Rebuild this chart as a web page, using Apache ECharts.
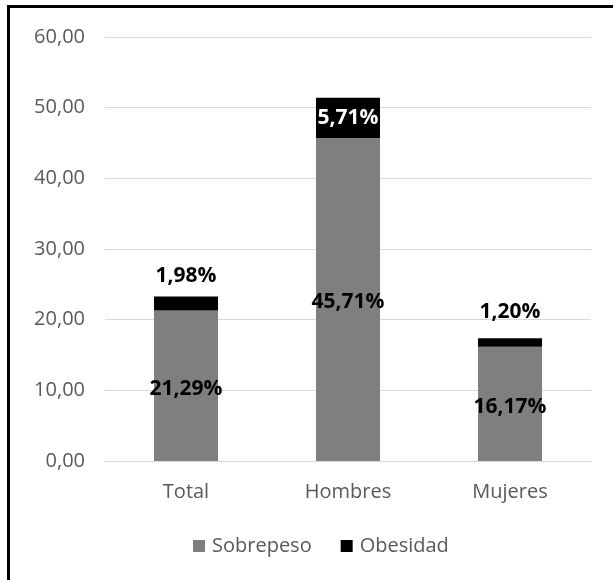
<!DOCTYPE html>
<html>
<head>
<meta charset="utf-8">
<script src="https://cdn.jsdelivr.net/npm/echarts@6/dist/echarts.min.js"></script>
<style>
  html, body { margin: 0; padding: 0; background: #fff; }
  #chart { width: 613px; height: 580px; }
</style>
</head>
<body>
<div id="chart"></div>
<script>
// Categories and series values (percent)
const categories = ['Total', 'Hombres', 'Mujeres'];
const sobrepeso = [21.29, 45.71, 16.17];
const obesidad = [1.98, 5.71, 1.20];
const yTicks = { min: 0, max: 60, interval: 10 };

const fmtPct = v => v.toFixed(2).replace('.', ',') + '%';
const fmtAxis = v => v.toFixed(2).replace('.', ',');

// Obesidad labels: above the bar when the segment is thin, inside (white) when it is tall
const obesidadData = obesidad.map((v, i) => {
  if (v >= 4) {
    return { value: v, label: { position: 'inside', color: '#ffffff' } };
  }
  return { value: v, label: { position: 'top', color: '#000000', distance: i === 0 ? 10 : 16 } };
});

const chart = echarts.init(document.getElementById('chart'), null, { renderer: 'canvas' });
chart.setOption({
  animation: false,
  backgroundColor: '#ffffff',
  textStyle: { fontFamily: 'Open Sans' },
  graphic: [{
    type: 'rect',
    shape: { x: 8.5, y: 6.5, width: 700, height: 700 },
    style: { fill: 'none', stroke: '#000000', lineWidth: 3 },
    silent: true
  }],
  grid: { left: 105, right: 22, top: 37, bottom: 119, containLabel: false },
  legend: {
    data: ['Sobrepeso', 'Obesidad'],
    left: 188,
    top: 531,
    icon: 'rect',
    itemWidth: 12,
    itemHeight: 12,
    itemGap: 29,
    textStyle: { fontFamily: 'Open Sans', fontSize: 20, color: '#595959', padding: [0, 0, 0, 2] }
  },
  xAxis: {
    type: 'category',
    data: categories,
    axisTick: { show: false },
    axisLine: { lineStyle: { color: '#d9d9d9', width: 1 } },
    axisLabel: { fontFamily: 'Open Sans', fontSize: 20, color: '#595959', margin: 21 }
  },
  yAxis: {
    type: 'value',
    min: yTicks.min,
    max: yTicks.max,
    interval: yTicks.interval,
    axisLine: { show: false },
    axisTick: { show: false },
    splitLine: { lineStyle: { color: '#d9d9d9', width: 1 } },
    axisLabel: { fontFamily: 'Open Sans', fontSize: 20, color: '#595959', margin: 20, formatter: fmtAxis }
  },
  series: [
    {
      name: 'Sobrepeso',
      type: 'bar',
      stack: 'total',
      barWidth: 64,
      data: sobrepeso,
      itemStyle: { color: '#7f7f7f' },
      label: {
        show: true,
        position: 'inside',
        offset: [0, 3],
        color: '#000000',
        fontFamily: 'Open Sans',
        fontWeight: 'bold',
        fontSize: 21,
        formatter: p => fmtPct(p.value)
      }
    },
    {
      name: 'Obesidad',
      type: 'bar',
      stack: 'total',
      barWidth: 64,
      data: obesidadData,
      itemStyle: { color: '#000000' },
      label: {
        show: true,
        fontFamily: 'Open Sans',
        fontWeight: 'bold',
        fontSize: 21,
        formatter: p => fmtPct(p.value)
      }
    }
  ]
});
</script>
</body>
</html>
